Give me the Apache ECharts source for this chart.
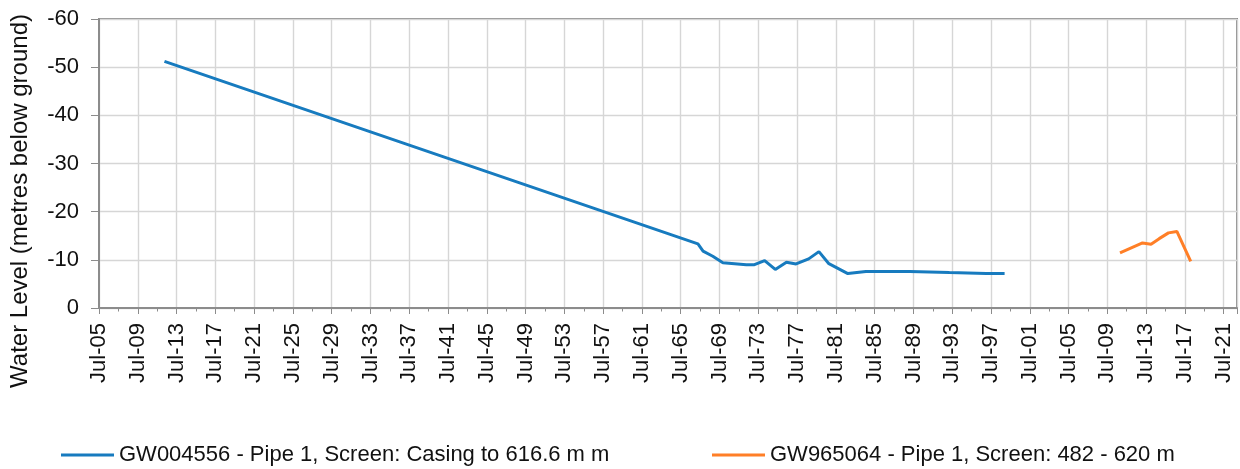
<!DOCTYPE html>
<html lang="en">
<head>
    <meta charset="UTF-8">
    <title>Water Level</title>
    <script src="https://cdn.jsdelivr.net/npm/echarts@6.0.0/dist/echarts.min.js"></script>
    <style>
        html, body { margin: 0; padding: 0; background: #fff; }
    </style>
</head>
<body>
    <div id="main" style="width: 1240px;height:469px;"></div>
    <script type="text/javascript">
        // bore GW004556
        const gw004556Dates = ['1912-04-01', '1967-04-10', '1967-10-20', '1968-10-20', '1969-11-05', '1972-04-05',
            '1973-02-05', '1974-02-25', '1975-04-01', '1976-05-25', '1977-05-25', '1978-09-10', '1979-10-01',
            '1980-10-10', '1982-09-25', '1984-08-05', '1989-02-05', '1993-03-15', '1997-01-01', '1998-11-25'];
        const gw004556Levels = [-51.2, -13.3, -11.8, -10.75, -9.4, -9.0, -9.0, -9.85, -8.0, -9.5, -9.15,
            -10.2, -11.7, -9.2, -7.15, -7.6, -7.6, -7.35, -7.15, -7.15];

        // bore GW965064
        const gw965064Dates = ['2010-10-20', '2013-02-15', '2014-01-01', '2014-11-05', '2015-10-20', '2016-09-01', '2018-02-05'];
        const gw965064Levels = [-11.45, -13.5, -13.25, -14.4, -15.6, -15.9, -9.7];

        const seriesNames = ['GW004556 - Pipe 1, Screen: Casing to 616.6 m m', 'GW965064 - Pipe 1, Screen: 482 - 620 m'];
        const yTicks = [-60, -50, -40, -30, -20, -10, 0];
        const months = ['Jan', 'Feb', 'Mar', 'Apr', 'May', 'Jun', 'Jul', 'Aug', 'Sep', 'Oct', 'Nov', 'Dec'];

        // x axis runs in days from Jul 1905, ticks every 4 years (1461 days)
        const DAY = 86400000;
        const base = Date.UTC(1905, 6, 1);
        const step = 1461;
        const toDays = (s) => (Date.parse(s) - base) / DAY;
        const pairs = (dates, vals) => dates.map((d, i) => [toDays(d), vals[i]]);

        const font = 'Liberation Sans, Arial, sans-serif';
        const axisGray = '#8c8c8c';
        const legendText = { fontFamily: font, fontSize: 22, color: '#111', lineHeight: 22 };

        let options = {
            animation: false,
            grid: {
                left: 99, right: 3, top: 19, bottom: 161,
                show: true, borderColor: axisGray, borderWidth: 2
            },
            legend: [
                {
                    data: [seriesNames[0]], left: 56, top: 439,
                    icon: 'rect', itemWidth: 53, itemHeight: 3,
                    textStyle: legendText
                },
                {
                    data: [seriesNames[1]], left: 707, top: 439,
                    icon: 'rect', itemWidth: 53, itemHeight: 3,
                    textStyle: legendText
                }
            ],
            xAxis: {
                type: 'value',
                min: 0,
                max: 42870,
                interval: step,
                axisLine: { lineStyle: { color: axisGray, width: 2 } },
                axisTick: { length: 6, lineStyle: { color: axisGray } },
                minorTick: { show: true, splitNumber: 2, length: 3.5, lineStyle: { color: axisGray } },
                splitLine: { lineStyle: { color: '#d6d6d6', width: 1.4 } },
                axisLabel: {
                    rotate: 90, margin: 15, showMaxLabel: false,
                    fontFamily: font, fontSize: 22, color: '#111',
                    formatter: (v) => {
                        if (v % step !== 0) return '';
                        const d = new Date(base + v * DAY);
                        return months[d.getUTCMonth()] + '-' + String(d.getUTCFullYear() % 100).padStart(2, '0');
                    }
                }
            },
            yAxis: {
                type: 'value',
                inverse: true,
                min: yTicks[0],
                max: yTicks[yTicks.length - 1],
                interval: 10,
                axisLine: { show: true, lineStyle: { color: axisGray, width: 2 } },
                axisTick: { show: true, length: 8, lineStyle: { color: axisGray } },
                splitLine: { lineStyle: { color: '#d6d6d6', width: 1.4 } },
                axisLabel: { margin: 20, fontFamily: font, fontSize: 22, color: '#111' }
            },
            graphic: [{
                type: 'text',
                x: 20, y: 201,
                rotation: Math.PI / 2,
                style: {
                    text: 'Water Level (metres below ground)',
                    font: '24px ' + font,
                    fill: '#111',
                    textAlign: 'center',
                    textVerticalAlign: 'middle'
                }
            }],
            series: [
                {
                    name: seriesNames[0],
                    type: 'line',
                    data: pairs(gw004556Dates, gw004556Levels),
                    showSymbol: false,
                    color: '#177bbf',
                    lineStyle: { width: 3 }
                },
                {
                    name: seriesNames[1],
                    type: 'line',
                    data: pairs(gw965064Dates, gw965064Levels),
                    showSymbol: false,
                    color: '#ff7f27',
                    lineStyle: { width: 3 }
                }
            ]
        };

        let myChart = echarts.init(document.getElementById('main'));
        myChart.setOption(options);
    </script>
</body>
</html>
